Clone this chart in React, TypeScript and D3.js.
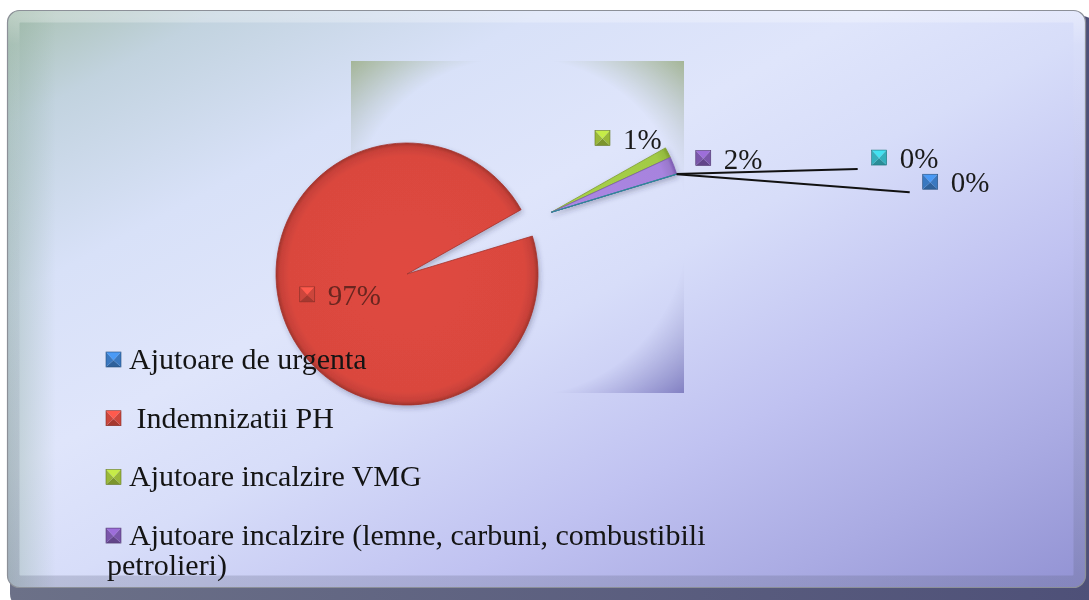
import React from "react";
import * as d3 from "d3";

// ---- data ----
const categories = [
  "Ajutoare de urgenta",
  " Indemnizatii PH",
  "Ajutoare incalzire VMG",
  "Ajutoare incalzire (lemne, carbuni, combustibili\npetrolieri)",
  "",
];
const values = [0.02, 96.5, 1.3, 2.16, 0.02];
const sliceColors = ["#3f7cc4", "#da473e", "#a2cb45", "#a783de", "#3db4c2"];
const sliceEdges = ["#2c5a92", "#a3342c", "#7c9c2c", "#7c5bb2", "#2a8a96"];
const markerColors = ["#3a78c0", "#cc463c", "#9ab838", "#7a56aa", "#34b0bc"];
const exploded = [true, false, true, true, true];
const legendCount = 4;

// ---- layout ----
const W = 1089;
const H = 600;
const FONT = "'Liberation Serif', 'Times New Roman', serif";
const labelOffsets: [number, number][] = [
  [246, 18],
  [-35, 0],
  [-73, -4],
  [22, 3],
  [195, -6],
];
const leaderEnds: ([number, number] | null)[] = [[-13, 0], null, null, null, [-14, 1]];

function Marker({ x, y, s, color }: { x: number; y: number; s: number; color: string }) {
  const c = d3.color(color)!;
  const top = c.brighter(0.7).formatHex();
  const bot = c.darker(0.6).formatHex();
  const side = c.formatHex();
  const edge = c.darker(1.2).formatHex();
  const mx = x + s / 2;
  const my = y + s * 0.55;
  return (
    <g>
      <polygon points={`${x},${y} ${x + s},${y} ${mx},${my}`} fill={top} />
      <polygon points={`${x},${y + s} ${x + s},${y + s} ${mx},${my}`} fill={bot} />
      <polygon points={`${x},${y} ${x},${y + s} ${mx},${my}`} fill={side} />
      <polygon points={`${x + s},${y} ${x + s},${y + s} ${mx},${my}`} fill={side} />
      <rect x={x} y={y} width={s} height={s} fill="none" stroke={edge} strokeWidth={0.6} />
    </g>
  );
}

export default function App() {
  const cx = 407;
  const cy = 274;
  const R = 131;
  const start = (73.1 * Math.PI) / 180;
  const pie = d3
    .pie<number>()
    .sort(null)
    .value((d) => d)
    .startAngle(start)
    .endAngle(start + 2 * Math.PI);
  const arcs = pie(values);
  const arcGen = d3.arc<d3.PieArcDatum<number>>().innerRadius(0).outerRadius(R);

  const gMid = (arcs[2].startAngle + arcs[4].endAngle) / 2;
  const explodeDist = 157;
  const off: [number, number] = [explodeDist * Math.sin(gMid), -explodeDist * Math.cos(gMid)];

  const sliceInfo = arcs.map((a, i) => {
    const t = exploded[i] ? off : [0, 0];
    const ox = cx + t[0];
    const oy = cy + t[1];
    const mid = (a.startAngle + a.endAngle) / 2;
    const rr = exploded[i] ? R : R * 0.6;
    const px = ox + rr * Math.sin(mid);
    const py = oy - rr * Math.cos(mid);
    return { a, ox, oy, px, py };
  });

  const fmt = (v: number) => `${Math.round(v)}%`;
  const order = [1, 0, 2, 3, 4];

  const legendX = 106;
  const legendY0 = 352;
  const legendStep = 58.7;

  return (
    <svg
      width={W}
      height={H}
      style={{ position: "absolute", left: 0, top: 0, display: "block" }}
      fontFamily={FONT}
    >
      <defs>
        <linearGradient id="shadowGrad" x1="0" y1="0" x2="1" y2="0">
          <stop offset="0" stopColor="#6c7188" />
          <stop offset="1" stopColor="#4e5078" />
        </linearGradient>
        <linearGradient id="bgGrad" x1="0" y1="0" x2="1" y2="1">
          <stop offset="0" stopColor="#a9c1b2" />
          <stop offset="0.1" stopColor="#c2d3df" />
          <stop offset="0.25" stopColor="#d8e1f8" />
          <stop offset="0.4" stopColor="#dfe5fb" />
          <stop offset="0.52" stopColor="#d7ddf9" />
          <stop offset="0.7" stopColor="#c0c2f1" />
          <stop offset="0.85" stopColor="#aaabe3" />
          <stop offset="1" stopColor="#9292d3" />
        </linearGradient>
        <linearGradient id="leftTint" x1="0" y1="0" x2="1" y2="0">
          <stop offset="0" stopColor="#8fae9c" stopOpacity="0.45" />
          <stop offset="0.045" stopColor="#8fae9c" stopOpacity="0" />
        </linearGradient>
        <linearGradient id="bevelGrad" x1="0" y1="0" x2="0" y2="1">
          <stop offset="0" stopColor="#ffffff" stopOpacity="0.3" />
          <stop offset="0.05" stopColor="#ffffff" stopOpacity="0.06" />
          <stop offset="0.5" stopColor="#828aa0" stopOpacity="0.08" />
          <stop offset="1" stopColor="#5a5f7a" stopOpacity="0.25" />
        </linearGradient>
        <clipPath id="frameClip">
          <rect x={7.5} y={10.5} width={1078} height={577} rx={12} />
        </clipPath>
        <linearGradient id="plotBase" x1="0" y1="0" x2="0" y2="1">
          <stop offset="0" stopColor="#a4b596" />
          <stop offset="0.5" stopColor="#b8bfd8" />
          <stop offset="1" stopColor="#8280c2" />
        </linearGradient>
        <radialGradient id="plotMaskGrad" cx="0.5" cy="0.5" r="0.7071">
          <stop offset="0" stopColor="#000" />
          <stop offset="0.72" stopColor="#000" />
          <stop offset="1" stopColor="#fff" />
        </radialGradient>
        <mask id="plotMask">
          <rect x={351} y={61} width={333} height={332} fill="url(#plotMaskGrad)" />
        </mask>
        {sliceInfo.map((s, i) => (
          <radialGradient key={i} id={`sg${i}`} gradientUnits="userSpaceOnUse" cx={0} cy={0} r={R}>
            <stop offset="0" stopColor={d3.color(sliceColors[i])!.brighter(0.08).formatHex()} />
            <stop offset="0.9" stopColor={sliceColors[i]} />
            <stop offset="0.97" stopColor={d3.color(sliceColors[i])!.darker(0.25).formatHex()} />
            <stop offset="1" stopColor={sliceEdges[i]} />
          </radialGradient>
        ))}
        <filter id="pieShadow" x="-20%" y="-20%" width="140%" height="140%">
          <feDropShadow dx="1.5" dy="2.5" stdDeviation="2.5" floodColor="#303050" floodOpacity="0.3" />
        </filter>
      </defs>

      {/* chart frame */}
      <rect x={10} y={16} width={1086} height={592} rx={14} fill="url(#shadowGrad)" />
      <rect x={7.5} y={10.5} width={1078} height={577} rx={12} fill="url(#bgGrad)" />
      <g clipPath="url(#frameClip)">
        <rect x={7.5} y={10.5} width={1078} height={577} fill="url(#leftTint)" />
        <rect
          x={13.5}
          y={16.5}
          width={1066}
          height={565}
          rx={7}
          fill="none"
          stroke="url(#bevelGrad)"
          strokeWidth={12}
        />
      </g>
      <rect x={7.5} y={10.5} width={1078} height={577} rx={12} fill="none" stroke="#8c9098" strokeWidth={1.2} />

      {/* plot area */}
      <rect x={351} y={61} width={333} height={332} fill="url(#plotBase)" mask="url(#plotMask)" />

      {/* pie */}
      <g filter="url(#pieShadow)">
        {order.map((i) => {
          const s = sliceInfo[i];
          return (
            <path
              key={i}
              d={arcGen(s.a) || ""}
              transform={`translate(${s.ox},${s.oy})`}
              fill={`url(#sg${i})`}
              stroke={sliceEdges[i]}
              strokeWidth={0.8}
              strokeLinejoin="round"
            />
          );
        })}
      </g>

      {/* leader lines */}
      {sliceInfo.map((s, i) => {
        const le = leaderEnds[i];
        if (!le) return null;
        const ax = s.px + labelOffsets[i][0];
        const ay = s.py + labelOffsets[i][1];
        return (
          <line
            key={`l${i}`}
            x1={s.px}
            y1={s.py}
            x2={ax + le[0]}
            y2={ay + le[1]}
            stroke="#111"
            strokeWidth={2}
          />
        );
      })}

      {/* data labels */}
      {sliceInfo.map((s, i) => {
        const ax = s.px + labelOffsets[i][0];
        const ay = s.py + labelOffsets[i][1];
        return (
          <g key={`dl${i}`}>
            <Marker x={ax} y={ay - 18} s={15} color={markerColors[i]} />
            <text x={ax + 28} y={ay} fontSize={29} fill={i === 1 ? "#6a2620" : "#1a1a1a"}>
              {fmt(values[i])}
            </text>
          </g>
        );
      })}

      {/* legend */}
      {categories.slice(0, legendCount).map((name, i) => {
        const y = legendY0 + i * legendStep;
        const lines = name.split("\n");
        return (
          <g key={`lg${i}`}>
            <Marker x={legendX} y={y} s={15} color={markerColors[i]} />
            {lines.map((ln, j) => (
              <text
                key={j}
                x={j === 0 ? legendX + 23 : legendX + 1}
                y={y + 17 + j * 30}
                fontSize={30}
                fill="#141414"
                style={{ whiteSpace: "pre" }}
              >
                {ln}
              </text>
            ))}
          </g>
        );
      })}
    </svg>
  );
}
